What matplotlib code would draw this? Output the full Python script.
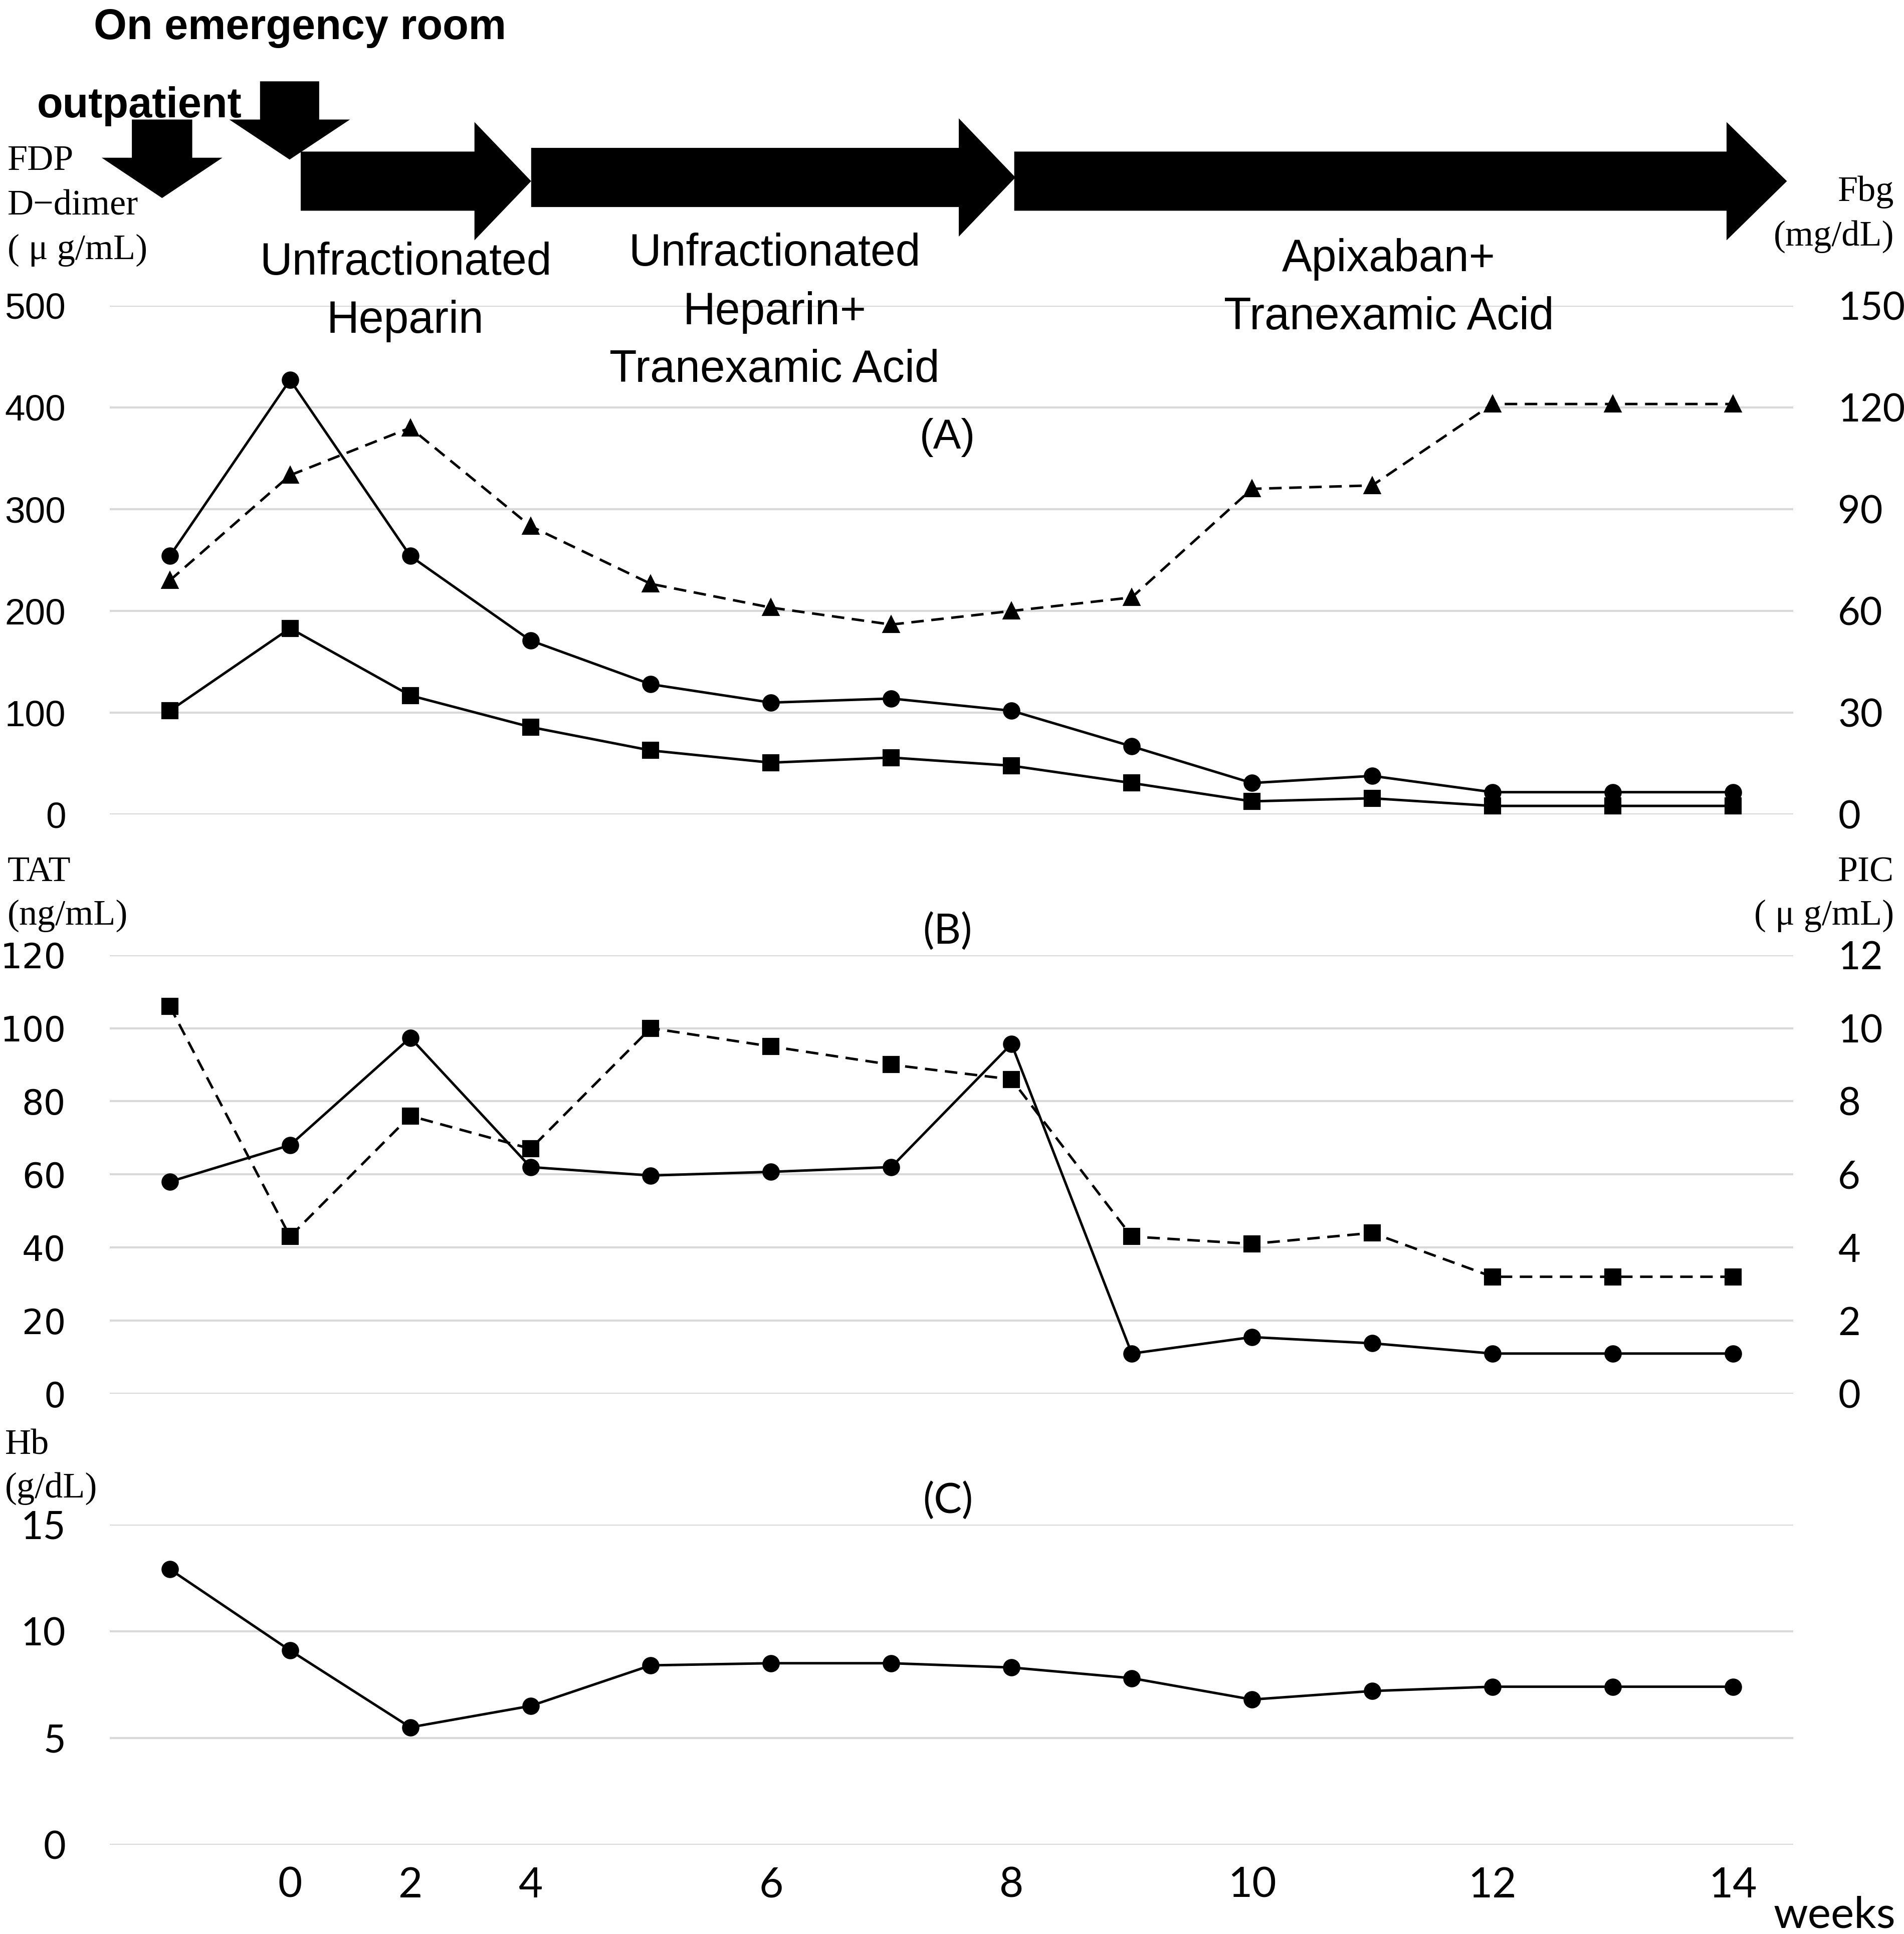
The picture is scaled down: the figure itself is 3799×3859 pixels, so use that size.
import numpy as np
import matplotlib.pyplot as plt
from matplotlib.patches import Polygon

# ---- data ----
week_labels = ['', '0', '2', '4', '', '6', '', '8', '', '10', '', '12', '', '14']
fdp = [254, 427, 254, 171, 128, 110, 114, 102, 67, 31, 38, 22, 22, 22]
ddimer = [102, 183, 117, 86, 63, 51, 56, 48, 31, 13, 16, 8.5, 8.5, 8.5]
fbg = [69, 100, 114, 85, 68, 61, 56, 60, 64, 96, 97, 121, 121, 121]
tat = [58, 68, 97.4, 62, 59.7, 60.7, 62, 95.7, 11, 15.5, 13.8, 11, 11, 11]
pic = [10.6, 4.3, 7.6, 6.7, 10.0, 9.5, 9.0, 8.6, 4.3, 4.1, 4.4, 3.2, 3.2, 3.2]
hb = [12.9, 9.1, 5.5, 6.5, 8.4, 8.5, 8.5, 8.3, 7.8, 6.8, 7.2, 7.4, 7.4, 7.4]

x = np.arange(len(week_labels))

# layout grid in reference units (1545 x 1569.4)
W, H = 1545.0, 1569.4
SANS = ['Liberation Sans', 'DejaVu Sans']
LATO = ['Lato', 'DejaVu Sans']
SERIF = ['Liberation Serif', 'DejaVu Serif']


def box(left, top, right, bottom):
    return [left / W, 1 - bottom / H, (right - left) / W, (bottom - top) / H]


def style(ax, lim, step, family, size, side='left'):
    ax.set_xlim(-0.5, 13.5)
    ax.set_ylim(*lim)
    ticks = np.arange(lim[0], lim[1] + step / 2, step)
    ax.set_yticks(ticks, labels=[f'{t:g}' for t in ticks], fontfamily=family, fontsize=size)
    for s in ax.spines.values():
        s.set_visible(False)
    ax.tick_params(axis='y', length=0, pad=21 if side == 'left' else 21.5)
    ax.tick_params(axis='x', length=0)


fig = plt.figure(figsize=(3799 / 300, 3859 / 300), dpi=300)

ax_a = fig.add_axes(box(89, 248, 1455, 661))
ax_b = fig.add_axes(box(89, 775, 1455, 1131))
ax_c = fig.add_axes(box(89, 1237, 1455, 1497))

solid = dict(color='black', lw=1.2, markersize=7.3, clip_on=False, zorder=3)
dashed = dict(color='black', lw=1.2, ls=(0, (5, 3)), markersize=7.3, clip_on=False, zorder=3)

# (A) FDP / D-dimer / Fbg
style(ax_a, (0, 500), 100, SANS, 17.5)
ax_a.yaxis.grid(True, color='#d9d9d9', lw=1.0)
ax_a.set_axisbelow(True)
ax_a.set_xticks([])
ax_a.plot(x, fdp, marker='o', **solid)
ax_a.plot(x, ddimer, marker='s', **solid)
ax_a2 = ax_a.twinx()
style(ax_a2, (0, 150), 30, LATO, 18.5, side='right')
ax_a2.plot(x, fbg, marker='^', **dashed)

# (B) TAT / PIC
style(ax_b, (0, 120), 20, ['DejaVu Sans'], 16.5)
ax_b.yaxis.grid(True, color='#d9d9d9', lw=1.0)
ax_b.set_axisbelow(True)
ax_b.set_xticks([])
ax_b.plot(x, tat, marker='o', **solid)
ax_b2 = ax_b.twinx()
style(ax_b2, (0, 12), 2, LATO, 18.5, side='right')
ax_b2.plot(x, pic, marker='s', **dashed)

# (C) Hb
style(ax_c, (0, 15), 5, LATO, 18.5)
ax_c.yaxis.grid(True, color='#d9d9d9', lw=1.0)
ax_c.set_axisbelow(True)
ax_c.set_xticks(x, labels=week_labels, fontfamily=LATO, fontsize=20)
ax_c.tick_params(axis='x', pad=10.5)
ax_c.plot(x, hb, marker='o', **solid)

# ---- annotation layer (reference units) ----
ov = fig.add_axes([0, 0, 1, 1], zorder=5)
ov.set_xlim(0, W)
ov.set_ylim(H, 0)
ov.axis('off')


def right_arrow(x0, xb, xt, yc, sh=24, hh=48):
    pts = [(x0, yc - sh), (xb, yc - sh), (xb, yc - hh), (xt, yc),
           (xb, yc + hh), (xb, yc + sh), (x0, yc + sh)]
    ov.add_patch(Polygon(pts, closed=True, color='black', lw=0))


def down_arrow(x0, x1, hx0, hx1, ytop, ybase, ytip):
    pts = [(x0, ytop), (x1, ytop), (x1, ybase), (hx1, ybase),
           ((hx0 + hx1) / 2, ytip), (hx0, ybase), (x0, ybase)]
    ov.add_patch(Polygon(pts, closed=True, color='black', lw=0))


right_arrow(244, 385, 431, 147)
right_arrow(431, 778, 824, 144)
right_arrow(823, 1401, 1450, 147)
down_arrow(107, 156, 82.5, 180.5, 97, 128, 160.7)
down_arrow(211, 259, 186, 284, 66, 97, 129.5)

bold = dict(fontfamily=SANS, fontsize=20.3, fontweight='bold', va='baseline')
ov.text(76, 31.8, 'On emergency room', ha='left', **bold)
ov.text(30, 95.3, 'outpatient', ha='left', **bold)

ser = dict(fontfamily=SERIF, fontsize=17.3, va='baseline')
ov.text(6, 138, 'FDP', ha='left', **ser)
ov.text(6, 174.3, 'D\u2212dimer', ha='left', **ser)
ov.text(6, 210, '( \u03bc g/mL)', ha='left', **ser)
ov.text(1537, 163, 'Fbg', ha='right', **ser)
ov.text(1537, 199, '(mg/dL)', ha='right', **ser)
ov.text(6, 715, 'TAT', ha='left', **ser)
ov.text(6, 750, '(ng/mL)', ha='left', **ser)
ov.text(1537, 715, 'PIC', ha='right', **ser)
ov.text(1537, 750, '( \u03bc g/mL)', ha='right', **ser)
ov.text(4, 1180, 'Hb', ha='left', **ser)
ov.text(4, 1215, '(g/dL)', ha='left', **ser)

trt = dict(fontfamily=SANS, fontsize=21.5, va='baseline', ha='center')
for yy, line in zip([223, 270], ['Unfractionated', 'Heparin']):
    ov.text(329, yy, line, **trt)
for yy, line in zip([215.6, 263, 310], ['Unfractionated', 'Heparin+', 'Tranexamic Acid']):
    ov.text(628.5, yy, line, **trt)
for yy, line in zip([220, 267], ['Apixaban+', 'Tranexamic Acid']):
    ov.text(1127, yy, line, **trt)

ov.text(769, 364, '(A)', fontfamily=SANS, fontsize=20, ha='center', va='baseline')
ov.text(769, 766, '(B)', fontfamily=LATO, fontsize=20, ha='center', va='baseline')
ov.text(769, 1228, '(C)', fontfamily=LATO, fontsize=20, ha='center', va='baseline')
ov.text(1439, 1564.5, 'weeks', fontfamily=LATO, fontsize=21, ha='left', va='baseline')

fig.savefig('out.png', dpi=300)
